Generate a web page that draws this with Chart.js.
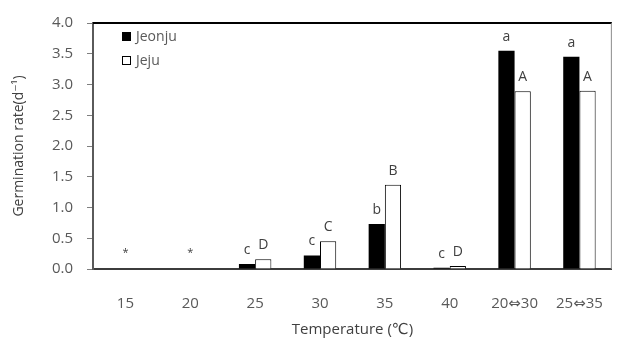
<!DOCTYPE html>
<html>
<head>
<meta charset="utf-8">
<script src="https://cdn.jsdelivr.net/npm/chart.js@4"></script>
<style>
  html, body { margin: 0; padding: 0; background: #fff; }
  #wrap { width: 621px; height: 344px; }
</style>
</head>
<body>
<div id="wrap"><canvas id="germChart" width="621" height="344"></canvas></div>
<script>
// 데이터
const temperatures = ['15', '20', '25', '30', '35', '40', '20⇔30', '25⇔35'];
const jeonjuRate = [0, 0, 0.08, 0.22, 0.73, 0.02, 3.55, 3.45];
const jejuRate = [0, 0, 0.16, 0.45, 1.37, 0.05, 2.89, 2.90];
const jeonjuLetters = ['', '', 'c', 'c', 'b', 'c', 'a', 'a'];
const jejuLetters = ['', '', 'D', 'C', 'B', 'D', 'A', 'A'];
const noGermination = [true, true, false, false, false, false, false, false];
const yTicks = [0, 0.5, 1.0, 1.5, 2.0, 2.5, 3.0, 3.5, 4.0];

const FONT = '"Open Sans", "DejaVu Sans", sans-serif';
const TEXT_COLOR = '#595959';

/**
 * 막대 위 문자 표시 + '*' 표시
 */
const letterPlugin = {
    id: 'letters',
    afterDatasetsDraw(chart) {
        const ctx = chart.ctx;
        const yScale = chart.scales.y;
        const xScale = chart.scales.x;
        const sets = [jeonjuLetters, jejuLetters];
        ctx.save();
        ctx.fillStyle = '#404040';
        ctx.textAlign = 'center';
        ctx.textBaseline = 'alphabetic';
        ctx.font = '14px ' + FONT;
        sets.forEach((letters, di) => {
            const meta = chart.getDatasetMeta(di);
            meta.data.forEach((bar, i) => {
                if (!letters[i]) return;
                ctx.fillText(letters[i], bar.x, bar.y - 10);
            });
        });
        // 발아하지 않은 온도
        ctx.font = '11px ' + FONT;
        ctx.textBaseline = 'middle';
        noGermination.forEach((flag, i) => {
            if (!flag) return;
            ctx.fillText('*', xScale.getPixelForValue(i), yScale.getPixelForValue(0.27));
        });
        ctx.restore();
    }
};

/**
 * 그래프 위/오른쪽 테두리와 범례
 */
const framePlugin = {
    id: 'frame',
    afterDraw(chart) {
        const ctx = chart.ctx;
        const area = chart.chartArea;
        ctx.save();
        // 위쪽 선
        ctx.strokeStyle = '#000';
        ctx.lineWidth = 2;
        ctx.beginPath();
        ctx.moveTo(area.left, area.top);
        ctx.lineTo(area.right, area.top);
        ctx.stroke();
        // 오른쪽 선
        ctx.strokeStyle = '#8c8c8c';
        ctx.lineWidth = 1;
        ctx.beginPath();
        ctx.moveTo(area.right - 0.5, area.top);
        ctx.lineTo(area.right - 0.5, area.bottom);
        ctx.stroke();

        // 범례
        ctx.font = '14px ' + FONT;
        ctx.textBaseline = 'middle';
        ctx.textAlign = 'left';
        chart.data.datasets.forEach((ds, i) => {
            const y = 37 + i * 24;
            const x = 122;
            ctx.fillStyle = ds.backgroundColor;
            ctx.fillRect(x, y - 5, 9, 9);
            ctx.strokeStyle = '#000';
            ctx.lineWidth = 1;
            ctx.strokeRect(x + 0.5, y - 4.5, 8, 8);
            ctx.fillStyle = TEXT_COLOR;
            ctx.fillText(ds.label, x + 14, y);
        });
        ctx.restore();
    }
};

new Chart(document.getElementById('germChart'), {
    type: 'bar',
    data: {
        labels: temperatures,
        datasets: [
            {
                label: 'Jeonju',
                data: jeonjuRate,
                backgroundColor: '#000000',
                borderColor: '#000000',
                borderWidth: 0
            },
            {
                label: 'Jeju',
                data: jejuRate,
                backgroundColor: '#ffffff',
                borderColor: '#000000',
                borderWidth: 1
            }
        ]
    },
    options: {
        responsive: false,
        animation: false,
        layout: { padding: { top: 13, right: 2, left: 0, bottom: 0 } },
        datasets: {
            bar: { categoryPercentage: 0.5, barPercentage: 1.0 }
        },
        plugins: {
            legend: { display: false },
            tooltip: { enabled: false }
        },
        scales: {
            x: {
                grid: { display: false },
                border: { display: true, color: '#3c3c3c', width: 2 },
                ticks: {
                    color: TEXT_COLOR,
                    font: { family: FONT, size: 15 },
                    padding: 18,
                    maxRotation: 0
                },
                title: {
                    display: true,
                    text: 'Temperature (℃)',
                    color: '#404040',
                    font: { family: FONT, size: 15 },
                    padding: { top: 0, bottom: 5 }
                },
                afterFit(scale) { scale.height = 75; }
            },
            y: {
                min: 0,
                max: 4,
                afterBuildTicks(scale) {
                    scale.ticks = yTicks.map(v => ({ value: v }));
                },
                grid: {
                    drawOnChartArea: false,
                    drawTicks: true,
                    tickLength: 6,
                    color: '#7f7f7f'
                },
                border: { display: true, color: '#5a5a5a', width: 2 },
                ticks: {
                    color: TEXT_COLOR,
                    font: { family: FONT, size: 15 },
                    padding: 14,
                    callback: v => Number(v).toFixed(1)
                },
                title: {
                    display: true,
                    text: 'Germination rate(d⁻¹)',
                    color: '#404040',
                    font: { family: FONT, size: 14 },
                    padding: { top: 11, bottom: 0 }
                },
                afterFit(scale) { scale.width = 93; }
            }
        }
    },
    plugins: [letterPlugin, framePlugin]
});
</script>
</body>
</html>
